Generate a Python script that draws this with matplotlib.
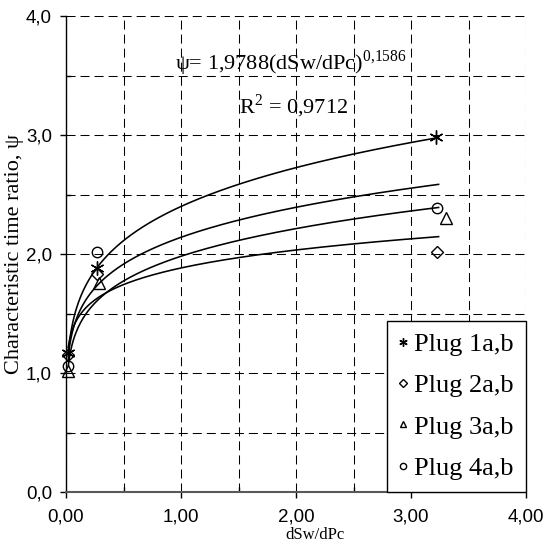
"""
characteristic time ratio vs dSw/dPc, power trendlines per plug
"""

import numpy as np
import matplotlib
matplotlib.use('Agg')
import matplotlib.pyplot as plt

# data
plug_names = ['Plug 1a,b', 'Plug 2a,b', 'Plug 3a,b', 'Plug 4a,b']
plug1_x = [0.02, 0.27, 3.22]
plug1_y = [1.17, 1.88, 2.98]
plug2_x = [0.02, 0.27, 3.23]
plug2_y = [1.15, 1.83, 2.02]
plug3_x = [0.02, 0.29, 3.30]
plug3_y = [1.02, 1.76, 2.30]
plug4_x = [0.02, 0.27, 3.23]
plug4_y = [1.06, 2.02, 2.39]
fit_range = [0.02, 3.24]

x_ticks = [0, 1, 2, 3, 4]
x_ticklabels = ['0,00', '1,00', '2,00', '3,00', '4,00']
y_ticks = [0, 1, 2, 3, 4]
y_ticklabels = ['0,0', '1,0', '2,0', '3,0', '4,0']

eq_text = '\u03c8= 1,9788(dSw/dPc)$^{\\mathregular{0{,}1586}}$'
r2_text = 'R$^{\\mathregular{2}}$ = 0,9712'

plt.rcParams['mathtext.fontset'] = 'custom'
plt.rcParams['mathtext.rm'] = 'Liberation Serif'
plt.rcParams['lines.scale_dashes'] = False

serif = 'Liberation Serif'
sans = 'Liberation Sans'

fig = plt.figure(figsize=(5.45, 5.45), dpi=100)
ax = fig.add_axes([66/545, 1-492/545, 460/545, 476/545])

xs = [plug1_x, plug2_x, plug3_x, plug4_x]
ys = [plug1_y, plug2_y, plug3_y, plug4_y]
markers = [(6, 2, 0), 'D', '^', 'o']
msizes = [10, 6.5, 8, 7.5]

# power trendline for each plug (fit in log-log space)
xf = np.linspace(fit_range[0], fit_range[1], 300)
for x, y in zip(xs, ys):
    b, lna = np.polyfit(np.log(x), np.log(y), 1)
    ax.plot(xf, np.exp(lna) * xf ** b, color='black', lw=1.15, zorder=3)

for x, y, m, ms, name in zip(xs, ys, markers, msizes, plug_names):
    ax.plot(x, y, linestyle='none', marker=m, ms=ms, mfc='none', mec='black',
            mew=1.0, label=name, zorder=4, clip_on=False)

ax.set_xlim(0, 4)
ax.set_ylim(0, 4)
ax.set_xticks(x_ticks)
ax.set_xticklabels(x_ticklabels, family=sans, fontsize=13.5)
ax.set_yticks(y_ticks)
ax.set_yticklabels(y_ticklabels, family=sans, fontsize=13.5)
ax.set_xticks(np.arange(0.5, 4, 1), minor=True)
ax.set_yticks(np.arange(0.5, 4, 1), minor=True)
ax.tick_params(which='major', direction='out', length=4, width=1, color='black')
ax.tick_params(axis='x', which='major', pad=8)
ax.tick_params(axis='y', which='major', pad=6)
ax.tick_params(which='minor', direction='in', length=3.5, width=1, color='black')

ax.grid(which='both', color='black', lw=0.75, linestyle=(0, (6.5, 3.6)))
ax.set_axisbelow(True)

ax.spines['top'].set_visible(False)
ax.spines['right'].set_visible(False)
ax.spines['left'].set_linewidth(1)
ax.spines['bottom'].set_linewidth(1.5)
ax.spines['bottom'].set_color('0.35')

ax.set_ylabel('Characteristic time ratio, \u03c8', family=serif, fontsize=16)
ax.yaxis.set_label_coords(-0.091, 0.5)
ax.set_xlabel('dSw/dPc', family=serif, fontsize=12)
ax.xaxis.set_label_coords(0.541, -0.073)

ax.text(1.957, 3.546, eq_text, family=serif, fontsize=16, ha='center', va='baseline')
ax.text(1.98, 3.185, r2_text, family=serif, fontsize=16, ha='center', va='baseline')

leg = ax.legend(loc='lower right', bbox_to_anchor=(1.0, 0.0), borderaxespad=0,
                prop={'family': serif, 'size': 19}, markerscale=0.6,
                handlelength=0.3, handletextpad=0.3, borderpad=0.45,
                labelspacing=0.68, fancybox=False, framealpha=1, edgecolor='black')
leg.get_frame().set_linewidth(1)
leg.set_zorder(5)

fig.savefig('out.png', dpi=100)
plt.close(fig)
